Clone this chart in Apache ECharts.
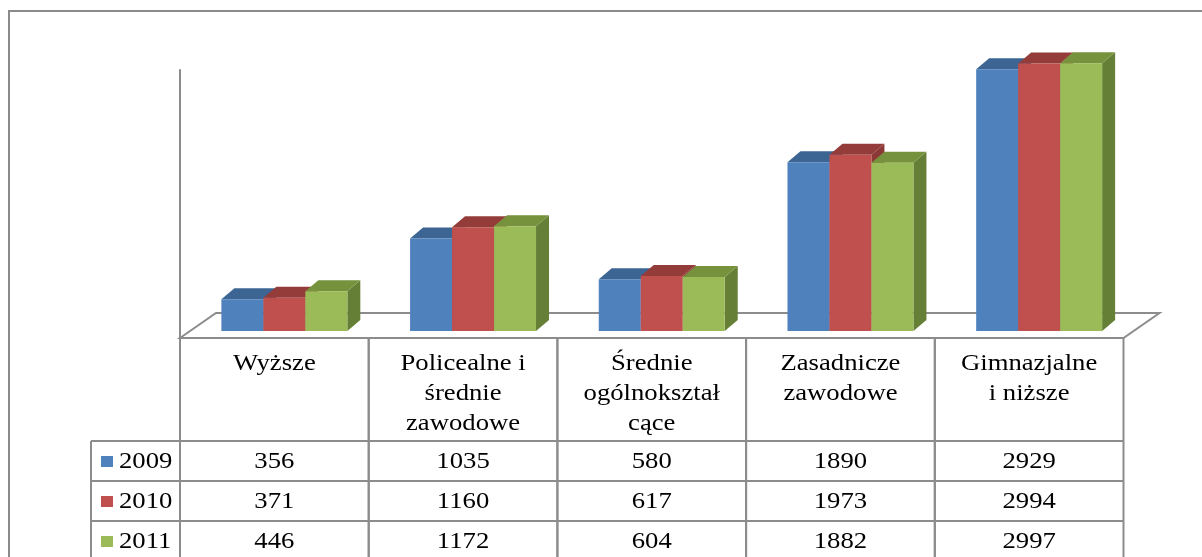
<!DOCTYPE html>
<html>
<head>
<meta charset="utf-8">
<script src="https://cdn.jsdelivr.net/npm/echarts@6/dist/echarts.min.js"></script>
<style>
  html, body { margin: 0; padding: 0; background: #fff; }
  #chart { width: 1202px; height: 557px; }
</style>
</head>
<body>
<div id="chart"></div>
<script>
// data
const categories = ['Wyższe', 'Policealne i\nśrednie\nzawodowe', 'Średnie\nogólnokształ\ncące', 'Zasadnicze\nzawodowe', 'Gimnazjalne\ni niższe'];
const years = ['2009', '2010', '2011'];
const values2009 = [356, 1035, 580, 1890, 2929];
const values2010 = [371, 1160, 617, 1973, 2994];
const values2011 = [446, 1172, 604, 1882, 2997];

const seriesValues = [values2009, values2010, values2011];
const palette = [
  { front: '#4F81BD', top: '#3C6594', side: '#385D8A' },
  { front: '#C0504D', top: '#943C3A', side: '#8C3836' },
  { front: '#9BBB59', top: '#76923C', side: '#667F37' }
];

const LINE = '#8c8c8c';
const FONT = 'Liberation Serif';
const TXT_SCALE = 1.16;
// 3d look
const DEPTH_X = 13, DEPTH_Y = 11;    // bar depth
const MID_X = 10, MID_Y = 7;         // bars sit mid way on the floor
const FLOOR_X = 36, FLOOR_Y = 25;    // floor depth
// table rows (px below the floor front edge)
const HEAD_H = 103, ROW_H = 40, TABLE_END = 240;

let chart = echarts.init(document.getElementById('chart'));

function barItem(k) {
  return function (params, api) {
    const cat = api.value(0), v = api.value(1);
    const base = api.coord([cat, 0]);
    const top = api.coord([cat, v]);
    const band = api.size([1, 0])[0];
    const w = band * 0.2225;
    const x0 = base[0] + MID_X - 1.5 * w + k * w;
    const x1 = x0 + w;
    const by = base[1] - MID_Y;
    const ty = top[1] - MID_Y;
    const c = palette[k];
    return {
      type: 'group',
      children: [
        { type: 'polygon', shape: { points: [[x1, ty], [x1 + DEPTH_X, ty - DEPTH_Y], [x1 + DEPTH_X, by - DEPTH_Y], [x1, by]] }, style: { fill: c.side } },
        { type: 'polygon', shape: { points: [[x0, ty], [x0 + DEPTH_X, ty - DEPTH_Y], [x1 + DEPTH_X, ty - DEPTH_Y], [x1, ty]] }, style: { fill: c.top } },
        { type: 'rect', shape: { x: x0, y: ty, width: w, height: by - ty }, style: { fill: c.front } }
      ]
    };
  };
}

function txt(x, y, text, align, vAlign) {
  return {
    type: 'text', x: x, y: y, scaleX: TXT_SCALE,
    style: {
      text: text, fill: '#000', fontFamily: FONT, fontSize: 23,
      align: align, verticalAlign: vAlign, lineHeight: 30
    }
  };
}

function line(x1, y1, x2, y2) {
  return { type: 'line', shape: { x1: x1, y1: y1, x2: x2, y2: y2 }, style: { stroke: LINE, lineWidth: 2 } };
}

function floorItem(params, api) {
  const cs = params.coordSys;
  const x0 = cs.x, x1 = cs.x + cs.width, yb = cs.y + cs.height;
  return {
    type: 'polygon',
    shape: { points: [[x0, yb], [x0 + FLOOR_X, yb - FLOOR_Y], [x1 + FLOOR_X, yb - FLOOR_Y], [x1, yb]] },
    style: { stroke: LINE, lineWidth: 2, fill: '#fff' }
  };
}

function tableItem(params, api) {
  const idx = api.value(0);
  const cs = params.coordSys;
  const c = api.coord([idx, 0]);
  const band = api.size([1, 0])[0];
  const yb = cs.y + cs.height;
  const left = c[0] - band / 2, right = c[0] + band / 2;
  const kids = [
    line(left, yb, left, yb + TABLE_END),
    line(right, yb, right, yb + TABLE_END),
    txt(c[0], yb + 11, categories[idx], 'center', 'top')
  ];
  seriesValues.forEach(function (vals, r) {
    kids.push(txt(c[0], yb + HEAD_H + ROW_H * r + ROW_H / 2 + 1, String(vals[idx]), 'center', 'middle'));
  });
  if (idx === 0) {
    const lx = cs.x - 89;
    kids.push(line(lx, yb + HEAD_H, lx, yb + TABLE_END));
    for (let r = 0; r < 3; r++) {
      const ry = yb + HEAD_H + ROW_H * r;
      kids.push(line(lx, ry, cs.x + cs.width, ry));
      kids.push({ type: 'rect', shape: { x: lx + 10, y: ry + ROW_H / 2 - 5, width: 12, height: 11 }, style: { fill: palette[r].front } });
      kids.push(txt(lx + 28, ry + ROW_H / 2 + 1, years[r], 'left', 'middle'));
    }
  }
  return { type: 'group', children: kids };
}

const option = {
  animation: false,
  graphic: [{
    type: 'rect', shape: { x: 9, y: 11, width: 1300, height: 700 },
    style: { fill: null, stroke: '#8a8a8a', lineWidth: 2 }, z: 100
  }],
  grid: { left: 180, top: 70, width: 943.5, height: 268 },
  xAxis: {
    type: 'category', data: categories,
    axisLine: { show: false }, axisTick: { show: false }, axisLabel: { show: false }
  },
  yAxis: {
    type: 'value', min: 0, max: 3000,
    axisLine: { show: true, lineStyle: { color: LINE, width: 2 } },
    axisTick: { show: false }, axisLabel: { show: false }, splitLine: { show: false }
  },
  series: [
    { type: 'custom', name: 'floor', renderItem: floorItem, data: [[0]], silent: true },
    { type: 'custom', name: 'table', renderItem: tableItem, data: categories.map(function (c, i) { return [i]; }), silent: true }
  ].concat(years.map(function (y, k) {
    return {
      type: 'custom', name: y, renderItem: barItem(k),
      data: seriesValues[k].map(function (v, i) { return [i, v]; })
    };
  }))
};

chart.setOption(option);
</script>
</body>
</html>
